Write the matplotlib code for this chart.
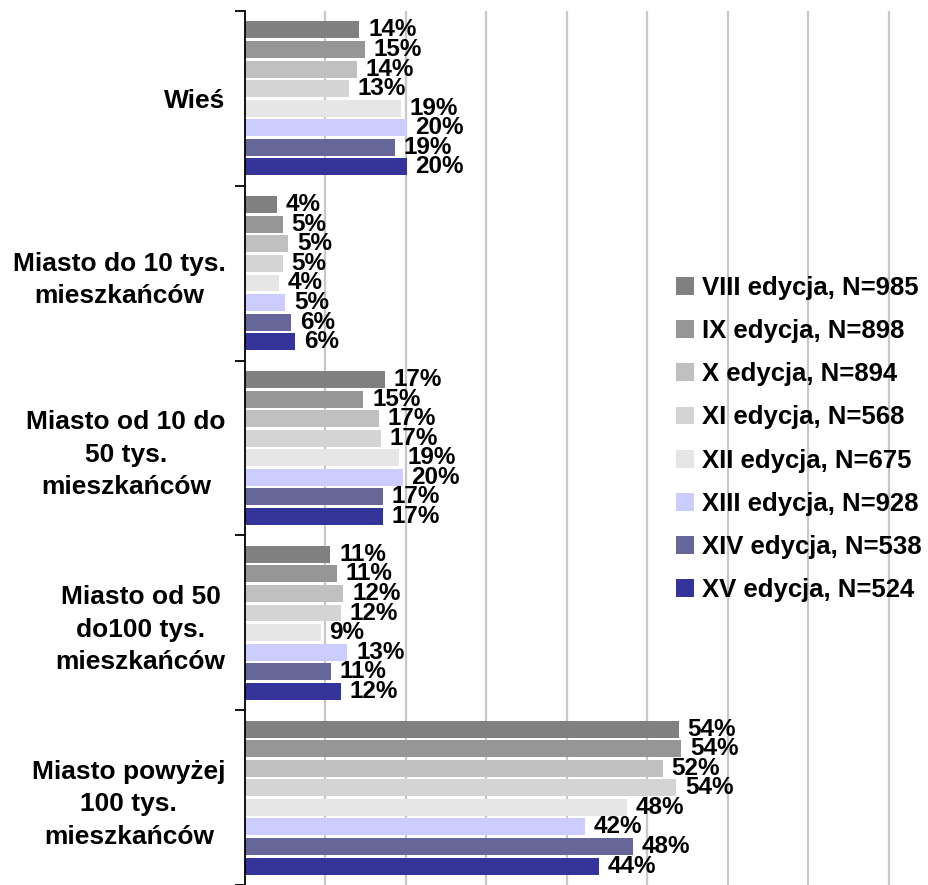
import numpy as np
import matplotlib.pyplot as plt

plt.rcParams['font.family'] = ['Liberation Sans', 'DejaVu Sans']

# Categories (top to bottom)
categories = ['Wieś',
              'Miasto do 10 tys.\nmieszkańców',
              'Miasto od 10 do\n50 tys.\nmieszkańców',
              'Miasto od 50\ndo100 tys.\nmieszkańców',
              'Miasto powyżej\n100 tys.\nmieszkańców']

series = ['VIII edycja, N=985', 'IX edycja, N=898', 'X edycja, N=894',
          'XI edycja, N=568', 'XII edycja, N=675', 'XIII edycja, N=928',
          'XIV edycja, N=538', 'XV edycja, N=524']

colors = ['#808080', '#969696', '#C0C0C0', '#D4D4D4',
          '#E6E6E6', '#CCCCFF', '#666699', '#333399']

# bar lengths in %, one list per edition (order of categories)
viii = [14.2, 4.0, 17.4, 10.6, 53.9]
ix = [14.9, 4.7, 14.7, 11.4, 54.2]
x_ed = [13.9, 5.4, 16.6, 12.2, 51.9]
xi = [12.9, 4.7, 16.9, 11.9, 53.6]
xii = [19.4, 4.2, 19.1, 9.4, 47.5]
xiii = [20.1, 5.0, 19.6, 12.7, 42.2]
xiv = [18.6, 5.7, 17.1, 10.7, 48.2]
xv = [20.1, 6.2, 17.1, 11.9, 44.0]
values = [viii, ix, x_ed, xi, xii, xiii, xiv, xv]

# printed labels
labels_viii = [14, 4, 17, 11, 54]
labels_ix = [15, 5, 15, 11, 54]
labels_x = [14, 5, 17, 12, 52]
labels_xi = [13, 5, 17, 12, 54]
labels_xii = [19, 4, 19, 9, 48]
labels_xiii = [20, 5, 20, 13, 42]
labels_xiv = [19, 6, 17, 11, 48]
labels_xv = [20, 6, 17, 12, 44]
labels = [labels_viii, labels_ix, labels_x, labels_xi,
          labels_xii, labels_xiii, labels_xiv, labels_xv]

fig = plt.figure(figsize=(9.29, 8.85), dpi=100)
ax = fig.add_axes([245 / 929, 0, 684 / 929, 874 / 885])

n = len(series)
step = 0.112
height = 0.097
ypos = np.arange(len(categories))

for i, (name, vals, labs, col) in enumerate(zip(series, values, labels, colors)):
    y = ypos - (n - 1) / 2 * step + i * step
    ax.barh(y, vals, height=height, color=col, label=name, zorder=2)
    for yy, v, lab in zip(y, vals, labs):
        ax.text(v + 1.1, yy, f'{lab}%', va='center', ha='left',
                fontsize=17.5, fontweight='bold', zorder=3)

ax.set_xlim(0, 85)
ax.set_ylim(len(categories) - 0.5, -0.5)
ax.set_xticks(np.arange(10, 90, 10))
ax.xaxis.grid(True, color='#C8C8C8', linewidth=1.6, zorder=0)
ax.tick_params(axis='x', length=0, labelbottom=False)

# category boundaries as major ticks, labels on minor ticks
ax.set_yticks(np.arange(-0.5, len(categories), 1))
ax.set_yticklabels([])
ax.tick_params(axis='y', which='major', length=7, width=1.3, direction='out')
ax.set_yticks(ypos, minor=True)
ax.set_yticklabels(categories, minor=True, fontsize=19, fontweight='bold',
                   multialignment='center', linespacing=1.45)
ax.tick_params(axis='y', which='minor', length=0, pad=14)

for s in ['top', 'right', 'bottom']:
    ax.spines[s].set_visible(False)
ax.spines['left'].set_linewidth(1.3)

leg = fig.legend(loc='center left', bbox_to_anchor=(676 / 929, 1 - 439 / 885),
                 frameon=False, prop={'size': 18.5, 'weight': 'bold'},
                 handlelength=0.7, handleheight=0.7, handletextpad=0.3,
                 labelspacing=0.74, borderpad=0, borderaxespad=0)

fig.savefig('out.png', dpi=100, facecolor='white')
